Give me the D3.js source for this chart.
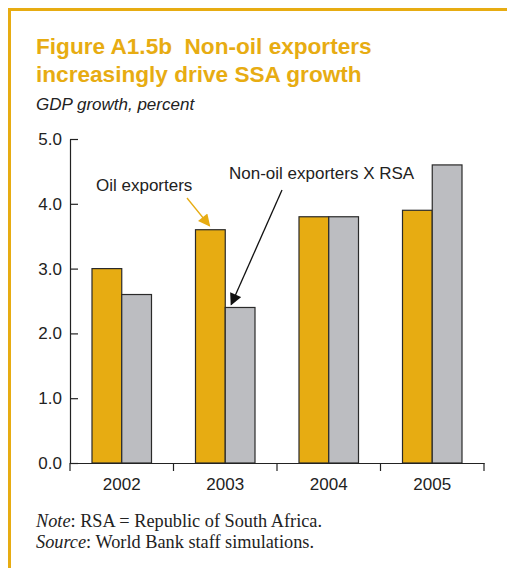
<!DOCTYPE html>
<html>
<head>
<meta charset="utf-8">
<script src="https://cdn.jsdelivr.net/npm/d3@7"></script>
<style>
  body { margin: 0; background: #fff; }
  svg { display: block; }
</style>
</head>
<body>
<div id="viz"></div>
<script>
let w = 507;
let h = 568;

// data
let years = ["2002", "2003", "2004", "2005"];
let series = ["Oil exporters", "Non-oil exporters X RSA"];
let oilValues = [3.0, 3.6, 3.8, 3.9];
let nonOilValues = [2.6, 2.4, 3.8, 4.6];
let yTicks = [0, 1, 2, 3, 4, 5];

let gold = "#e7ac12";
let grey = "#bcbdc1";
let sans = "Liberation Sans, Arial, sans-serif";
let serif = "Liberation Serif, Times New Roman, serif";

let svg = d3.select("#viz").append("svg")
  .attr("width", w)
  .attr("height", h);

// frame: top and left gold rule
svg.append("line").attr("x1", 8).attr("x2", w).attr("y1", 9.5).attr("y2", 9.5)
  .attr("stroke", gold).attr("stroke-width", 3);
svg.append("line").attr("x1", 9.5).attr("x2", 9.5).attr("y1", 8).attr("y2", h)
  .attr("stroke", gold).attr("stroke-width", 3);

// titles
svg.append("text").attr("x", 36).attr("y", 54)
  .attr("font-family", sans)
  .attr("font-weight", "bold").attr("font-size", "22.6px").attr("fill", gold)
  .attr("xml:space", "preserve")
  .text("Figure A1.5b  Non-oil exporters");
svg.append("text").attr("x", 36).attr("y", 82)
  .attr("font-family", sans)
  .attr("font-weight", "bold").attr("font-size", "22.6px").attr("fill", gold)
  .text("increasingly drive SSA growth");
svg.append("text").attr("x", 36).attr("y", 110)
  .attr("font-family", sans)
  .attr("font-style", "italic").attr("font-size", "17px").attr("fill", "#222")
  .text("GDP growth, percent");

// scales
let x0 = d3.scaleBand().domain(years).range([70, 484]);
let x1 = d3.scaleBand().domain(series).range([22, x0.bandwidth() - 22]);
let y = d3.scaleLinear().domain([0, 5]).range([463, 139]);

// bars
let groups = svg.append("g").selectAll("g")
  .data(years)
  .join("g")
  .attr("transform", d => "translate(" + x0(d) + ",0)");

groups.selectAll("rect")
  .data((d, i) => [
    { s: series[0], v: oilValues[i] },
    { s: series[1], v: nonOilValues[i] }
  ])
  .join("rect")
  .attr("x", d => x1(d.s))
  .attr("y", d => y(d.v))
  .attr("width", x1.bandwidth())
  .attr("height", d => y(0) - y(d.v))
  .attr("fill", d => d.s === series[0] ? gold : grey)
  .attr("stroke", "#2a2a2a")
  .attr("stroke-width", 1.2);

// y axis, ticks point inward
let yAxis = svg.append("g")
  .attr("transform", "translate(70,0)")
  .call(d3.axisLeft(y).tickValues(yTicks).tickFormat(d3.format(".1f")).tickSize(0).tickSizeOuter(0).tickPadding(8));
yAxis.select(".domain").attr("stroke", "#222").attr("stroke-width", 1.2);
yAxis.selectAll(".tick line").attr("x2", 8).attr("stroke", "#222").attr("stroke-width", 1.2);
yAxis.selectAll("text")
  .attr("font-family", sans)
  .attr("font-size", "17px").attr("fill", "#222");

// x axis
let xAxis = svg.append("g")
  .attr("transform", "translate(0,463)")
  .call(d3.axisBottom(x0).tickSize(0).tickPadding(15));
xAxis.select(".domain").attr("stroke", "#222").attr("stroke-width", 1.2);
xAxis.selectAll("text")
  .attr("font-family", sans)
  .attr("font-size", "17px").attr("fill", "#222");
// separators between years
let sepPos = years.map(d => x0(d)).concat([x0.range()[1]]);
xAxis.selectAll(".sep")
  .data(sepPos)
  .join("line")
  .attr("class", "sep")
  .attr("x1", d => d).attr("x2", d => d)
  .attr("y1", 0).attr("y2", 8)
  .attr("stroke", "#222").attr("stroke-width", 1.2);

// annotations
let defs = svg.append("defs");
function arrowHead(id, color) {
  defs.append("marker")
    .attr("id", id)
    .attr("viewBox", "0 0 10 10")
    .attr("refX", 9).attr("refY", 5)
    .attr("markerWidth", 15).attr("markerHeight", 12)
    .attr("markerUnits", "userSpaceOnUse")
    .attr("orient", "auto")
    .append("path").attr("d", "M0,0 L10,5 L0,10 Z").attr("fill", color);
}
arrowHead("arrGold", gold);
arrowHead("arrBlack", "#111");

svg.append("text").attr("x", 96).attr("y", 191)
  .attr("font-family", sans)
  .attr("font-size", "17px").attr("fill", "#222")
  .text(series[0]);
svg.append("line")
  .attr("x1", 187).attr("y1", 198)
  .attr("x2", x0("2003") + x1(series[0]) + 14).attr("y2", y(oilValues[1]) - 4)
  .attr("stroke", gold).attr("stroke-width", 1.3)
  .attr("marker-end", "url(#arrGold)");

svg.append("text").attr("x", 229).attr("y", 179)
  .attr("font-family", sans)
  .attr("font-size", "17px").attr("fill", "#222")
  .text(series[1]);
svg.append("line")
  .attr("x1", 282).attr("y1", 190)
  .attr("x2", x0("2003") + x1(series[1]) + 6).attr("y2", y(nonOilValues[1]) - 3)
  .attr("stroke", "#111").attr("stroke-width", 1.3)
  .attr("marker-end", "url(#arrBlack)");

// footnotes
let note = svg.append("text").attr("x", 36).attr("y", 527)
  .attr("font-family", serif)
  .attr("font-size", "18.3px").attr("fill", "#222");
note.append("tspan").attr("font-style", "italic").text("Note");
note.append("tspan").text(": RSA = Republic of South Africa.");
let src = svg.append("text").attr("x", 36).attr("y", 548)
  .attr("font-family", serif)
  .attr("font-size", "18.3px").attr("fill", "#222");
src.append("tspan").attr("font-style", "italic").text("Source");
src.append("tspan").text(": World Bank staff simulations.");
</script>
</body>
</html>
